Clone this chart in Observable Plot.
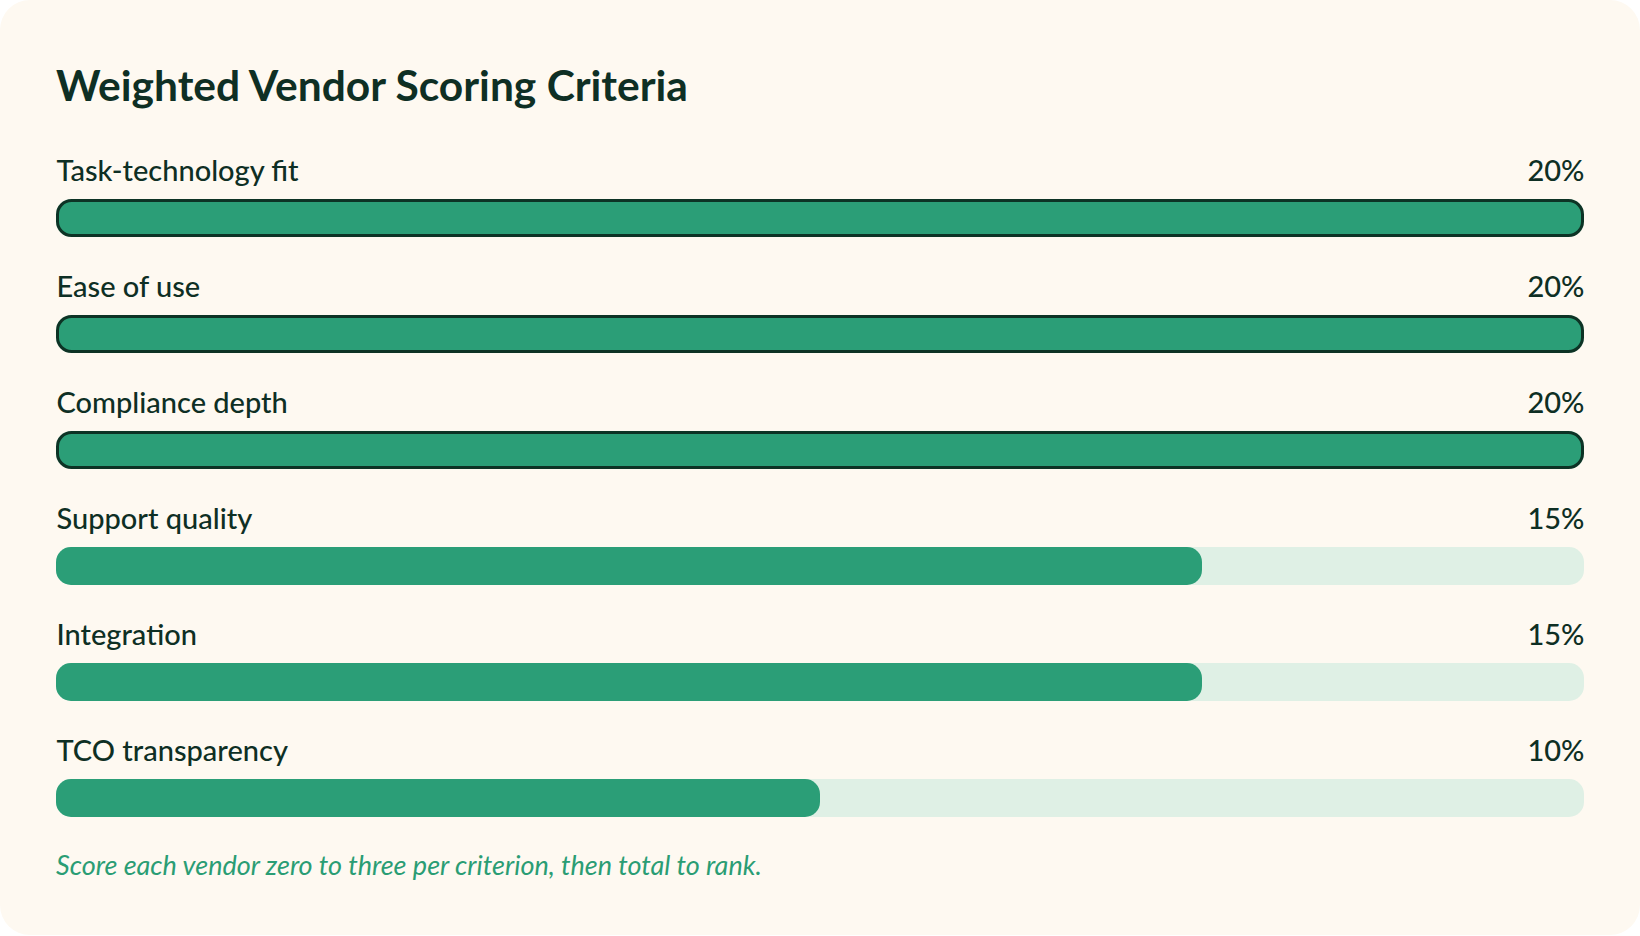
<!DOCTYPE html>
<html>
<head>
<meta charset="utf-8">
<script src="https://cdn.jsdelivr.net/npm/d3@7"></script>
<script src="https://cdn.jsdelivr.net/npm/@observablehq/plot@0.6"></script>
<style>
  html, body { margin: 0; padding: 0; background: #ffffff; }
  #card {
    position: relative; width: 1640px; height: 935px; background: #fef9f1;
    border-radius: 30px; overflow: hidden; font-family: Lato, "Noto Sans", sans-serif; color: #0e2f24;
  }
  #title { position: absolute; left: 56px; top: 60px; margin: 0; font-size: 42.5px; font-weight: 700; line-height: 50px; color: #0e2f24; }
  #chart { position: absolute; left: 0; top: 140px; }
  #foot { position: absolute; left: 56px; top: 849px; margin: 0; font-size: 27px; font-style: italic; line-height: 32px; color: #2a9d74; }
</style>
</head>
<body>
<div id="card">
  <h2 id="title">Weighted Vendor Scoring Criteria</h2>
  <div id="chart"></div>
  <p id="foot">Score each vendor zero to three per criterion, then total to rank.</p>
</div>
<script>
const criteria = ["Task-technology fit", "Ease of use", "Compliance depth", "Support quality", "Integration", "TCO transparency"];
const weights = [20, 20, 20, 15, 15, 10];
const maxWeight = 20;

const rows = criteria.map((name, i) => ({name, weight: weights[i], label: weights[i] + "%", full: weights[i] === maxWeight}));

const chart = Plot.plot({
  width: 1640,
  height: 696,
  marginLeft: 56,
  marginRight: 56,
  marginTop: 0,
  marginBottom: 0,
  style: {background: "transparent", fontFamily: "Lato, 'Noto Sans', sans-serif"},
  x: {domain: [0, maxWeight], axis: null},
  y: {domain: criteria, axis: null, padding: 0},
  marks: [
    Plot.barX(rows, {x1: 0, x2: maxWeight, y: "name", fill: "#dff0e5", insetTop: 59, insetBottom: 19, rx: 15}),
    Plot.barX(rows.filter(d => !d.full), {x1: 0, x2: "weight", y: "name", fill: "#2b9e77", insetTop: 59, insetBottom: 19, rx: 15}),
    Plot.barX(rows.filter(d => d.full), {x1: 0, x2: "weight", y: "name", fill: "#2b9e77", stroke: "#0d3325", strokeWidth: 3, insetTop: 60.5, insetBottom: 20.5, insetLeft: 1.5, insetRight: 1.5, rx: 14}),
    Plot.text(rows, {y: "name", text: "name", frameAnchor: "left", textAnchor: "start", lineAnchor: "bottom", dy: -18, fontSize: 29, fontWeight: 500, fill: "#0e2f24"}),
    Plot.text(rows, {y: "name", text: "label", frameAnchor: "right", textAnchor: "end", lineAnchor: "bottom", dy: -18, fontSize: 29, fontWeight: 500, fill: "#0e2f24"})
  ]
});
document.getElementById("chart").appendChild(chart);
</script>
</body>
</html>
